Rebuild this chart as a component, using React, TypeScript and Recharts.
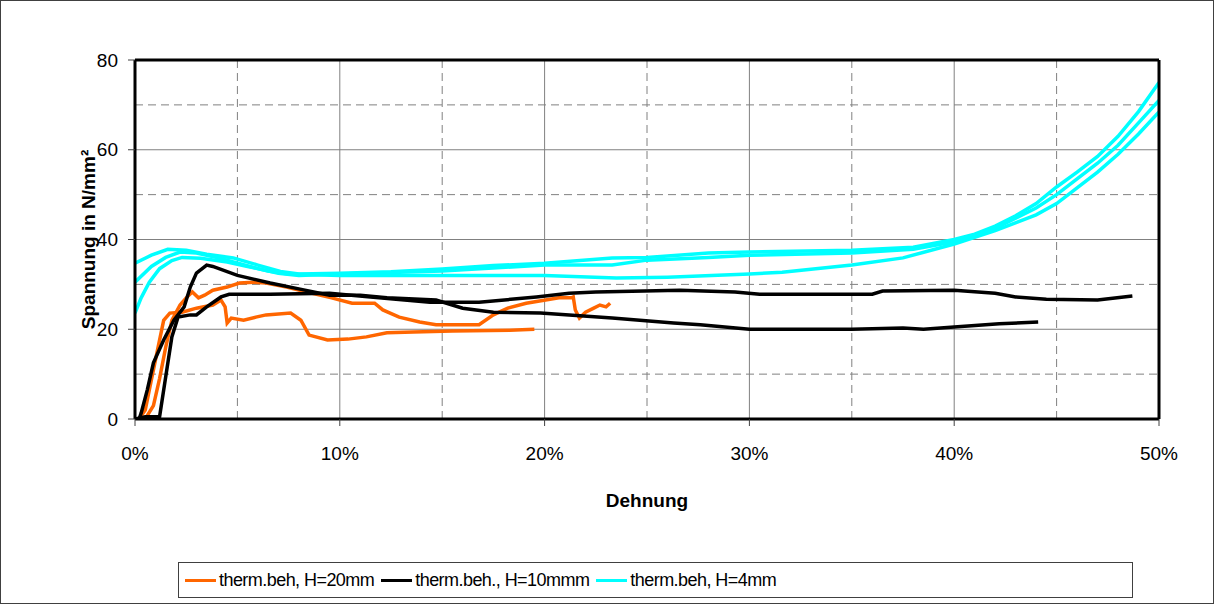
import { LineChart, Line, XAxis, YAxis, ReferenceLine, Legend, Label } from 'recharts';

const FONT = 'Arial, "Liberation Sans", sans-serif';

// strain in %, stress in N/mm²
const orange1X = [0.5, 0.9, 1.2, 1.5, 1.8, 2.2, 2.5, 2.8, 3.1, 3.4, 3.8, 4.5, 5.1, 5.8, 6.4, 7.4, 8.4, 9.6, 10.6, 11.7, 12.1, 12.9, 13.9, 14.7, 16.8, 17.5, 18.2, 19.1, 20.7, 21.3, 21.4, 21.5, 21.7, 22.0, 22.4, 22.7, 23.0, 23.2];
const orange1Y = [0, 3, 9, 16, 22, 25.4, 27, 28.3, 27, 27.6, 28.7, 29.4, 30.3, 30.5, 30.3, 29.4, 28.3, 27, 25.8, 25.8, 24.3, 22.7, 21.6, 21, 21, 23.2, 24.7, 25.8, 27, 27, 27.2, 24.3, 22.5, 23.8, 24.7, 25.4, 25, 25.8];

const orange2X = [0.2, 0.5, 0.7, 1.1, 1.4, 1.7, 2.3, 3.0, 3.8, 4.2, 4.4, 4.5, 4.7, 5.3, 5.9, 6.4, 7.6, 8.1, 8.5, 9.4, 10.4, 11.3, 12.3, 13.6, 15.5, 18.3, 19.5];
const orange2Y = [0, 2, 6.5, 15.4, 22, 23.6, 23.8, 24.7, 25.4, 26.5, 25, 21.4, 22.5, 22, 22.7, 23.2, 23.6, 22, 18.7, 17.6, 17.8, 18.3, 19.2, 19.4, 19.6, 19.8, 20];

const black1X = [0.2, 0.3, 0.6, 0.9, 1.4, 1.9, 2.4, 2.7, 3.0, 3.5, 3.8, 5.0, 6.6, 8.0, 9.5, 11.0, 12.3, 14.7, 16.0, 17.5, 19.8, 21.2, 23.3, 26.3, 27.6, 30.0, 35.0, 37.5, 38.5, 40.0, 42.2, 44.1];
const black1Y = [0, 1.3, 6.5, 12.5, 17.6, 22, 25, 29.4, 32.5, 34.3, 34, 32, 30.3, 29, 27.6, 27.6, 27, 26.5, 24.7, 23.8, 23.6, 23.2, 22.5, 21.4, 21, 20, 20, 20.3, 20, 20.5, 21.2, 21.6];

const black2X = [0, 0.5, 1.2, 1.5, 1.8, 2.1, 2.7, 3.0, 3.5, 4.2, 4.6, 6.6, 9.5, 11.5, 14.4, 16.8, 19.6, 21.2, 22.5, 26.6, 29.3, 30.5, 36.0, 36.5, 40.0, 42.0, 43.0, 44.5, 47.0, 48.7];
const black2Y = [0, 0.5, 0.5, 9.4, 18.3, 22.7, 23.2, 23.2, 25, 27.2, 27.8, 27.8, 28, 27.2, 26, 26, 27.2, 28, 28.3, 28.7, 28.3, 27.8, 27.8, 28.5, 28.7, 28, 27.2, 26.7, 26.5, 27.4];

const cyan1X = [0, 0.8, 1.6, 2.5, 3.5, 4.8, 6.0, 7.1, 8.0, 10, 12.5, 15, 17.5, 20, 23.3, 25, 28, 30, 35, 38, 40, 41, 42, 43, 44, 45, 46, 47, 48, 49, 50];
const cyan1Y = [34.7, 36.5, 37.8, 37.6, 36.7, 35.9, 34.3, 32.9, 32.3, 32.5, 32.8, 33.4, 34.2, 34.7, 35.9, 36, 37, 37.2, 37.6, 38.3, 40, 41.2, 43, 45.3, 48, 51.7, 55, 58.5, 63, 68.5, 75];

const cyan2X = [0, 0.8, 1.5, 2.2, 3.0, 4.0, 4.8, 6.0, 7.0, 8.0, 10, 15, 20, 23.3, 25, 28, 30, 35, 38, 40, 42, 44, 45, 46, 47, 48, 49, 50];
const cyan2Y = [30.5, 34, 36, 37.2, 37, 36, 35, 33.5, 32.5, 32, 32.3, 33, 34.3, 34.3, 35.4, 36, 36.5, 37, 37.8, 39.5, 42.5, 47, 50, 53.5, 57, 61, 66, 71];

const cyan3X = [0, 0.3, 0.7, 1.2, 1.8, 2.3, 3.2, 4.5, 5.5, 6.5, 7.5, 10, 15, 20, 23.5, 26, 30, 31.6, 35, 37.5, 40, 42, 44, 45, 46, 47, 48, 49, 50];
const cyan3Y = [23.6, 27, 30.5, 33.5, 35.3, 36, 35.8, 35, 34, 33, 32.3, 32, 32, 32, 31.4, 31.6, 32.3, 32.7, 34.3, 35.9, 39, 42, 45.5, 48, 51.5, 55, 59, 63.5, 68.4];

const xTicks = [0, 10, 20, 30, 40, 50];
const yTicks = [0, 20, 40, 60, 80];
const xMajorGrid = [10, 20, 30, 40];
const xMinorGrid = [5, 15, 25, 35, 45];
const yMajorGrid = [20, 40, 60];
const yMinorGrid = [10, 30, 50, 70];

const ORANGE = '#FF6600';
const BLACK = '#000000';
const CYAN = '#00FFFF';

const legendItems = [
    {label: 'therm.beh, H=20mm', color: ORANGE},
    {label: 'therm.beh., H=10mmm', color: BLACK},
    {label: 'therm.beh, H=4mm', color: CYAN},
];

const zip = (xs: number[], ys: number[]) => xs.map((x, i) => ({x, y: ys[i]}));

const series = [
    {key: 'o1', color: ORANGE, data: zip(orange1X, orange1Y)},
    {key: 'o2', color: ORANGE, data: zip(orange2X, orange2Y)},
    {key: 'b1', color: BLACK, data: zip(black1X, black1Y)},
    {key: 'b2', color: BLACK, data: zip(black2X, black2Y)},
    {key: 'c1', color: CYAN, data: zip(cyan1X, cyan1Y)},
    {key: 'c2', color: CYAN, data: zip(cyan2X, cyan2Y)},
    {key: 'c3', color: CYAN, data: zip(cyan3X, cyan3Y)},
];

const LegendBox = () => (
    <div style={{
        display: 'flex',
        alignItems: 'center',
        height: 36,
        boxSizing: 'border-box',
        border: '1px solid #404040',
        background: '#fff',
        padding: '0 6px',
        fontFamily: FONT,
        fontSize: 18,
        letterSpacing: -0.55,
        color: '#000',
    }}>
        {legendItems.map((item) => (
            <div key={item.label} style={{display: 'flex', alignItems: 'center', marginRight: 7}}>
                <div style={{width: 31, height: 3, background: item.color, marginRight: 3}}/>
                <span>{item.label}</span>
            </div>
        ))}
    </div>
);

export default function App() {
    return (
        <div style={{
            position: 'absolute',
            left: 0,
            top: 0,
            width: 1214,
            height: 604,
            boxSizing: 'border-box',
            border: '1px solid #404040',
            background: '#fff',
        }}>
            <LineChart width={1212} height={602} margin={{top: 59, right: 54, bottom: 84, left: 74}}>
                {xMinorGrid.map(v => (
                    <ReferenceLine key={'xm' + v} x={v} stroke="#808080" strokeDasharray="8 5"/>
                ))}
                {yMinorGrid.map(v => (
                    <ReferenceLine key={'ym' + v} y={v} stroke="#808080" strokeDasharray="8 5"/>
                ))}
                {xMajorGrid.map(v => (
                    <ReferenceLine key={'xM' + v} x={v} stroke="#808080"/>
                ))}
                {yMajorGrid.map(v => (
                    <ReferenceLine key={'yM' + v} y={v} stroke="#808080"/>
                ))}

                <XAxis
                    type="number"
                    dataKey="x"
                    domain={[0, 50]}
                    ticks={xTicks}
                    tickFormatter={(v) => `${v}%`}
                    height={100}
                    tickSize={7}
                    tickMargin={21}
                    axisLine={{stroke: '#000', strokeWidth: 3}}
                    tickLine={{stroke: '#404040'}}
                    tick={{fill: '#000', fontSize: 19, fontFamily: FONT}}
                    allowDataOverflow
                >
                    <Label value="Dehnung" position="insideBottom" offset={12}
                           style={{fontWeight: 'bold', fontSize: 19, fontFamily: FONT, fill: '#000'}}/>
                </XAxis>
                <YAxis
                    type="number"
                    domain={[0, 80]}
                    ticks={yTicks}
                    width={60}
                    tickSize={7}
                    tickMargin={10}
                    axisLine={{stroke: '#000', strokeWidth: 3}}
                    tickLine={{stroke: '#404040'}}
                    tick={{fill: '#000', fontSize: 19, fontFamily: FONT}}
                    allowDataOverflow
                >
                    <Label value="Spannung in N/mm²" angle={-90} position="insideLeft" offset={13}
                           style={{textAnchor: 'middle', fontWeight: 'bold', fontSize: 19, fontFamily: FONT, fill: '#000'}}/>
                </YAxis>

                {series.map(s => (
                    <Line
                        key={s.key}
                        data={s.data}
                        dataKey="y"
                        type="linear"
                        stroke={s.color}
                        strokeWidth={3.5}
                        dot={false}
                        activeDot={false}
                        legendType="none"
                        isAnimationActive={false}
                    />
                ))}

                <ReferenceLine y={80} stroke="#000" strokeWidth={3} ifOverflow="visible"/>
                <ReferenceLine x={50} stroke="#000" strokeWidth={3} ifOverflow="visible"/>

                <Legend
                    layout="horizontal"
                    verticalAlign="middle"
                    align="center"
                    content={<LegendBox/>}
                    wrapperStyle={{left: 177, top: 561, width: 955, height: 36}}
                />
            </LineChart>
        </div>
    );
}
